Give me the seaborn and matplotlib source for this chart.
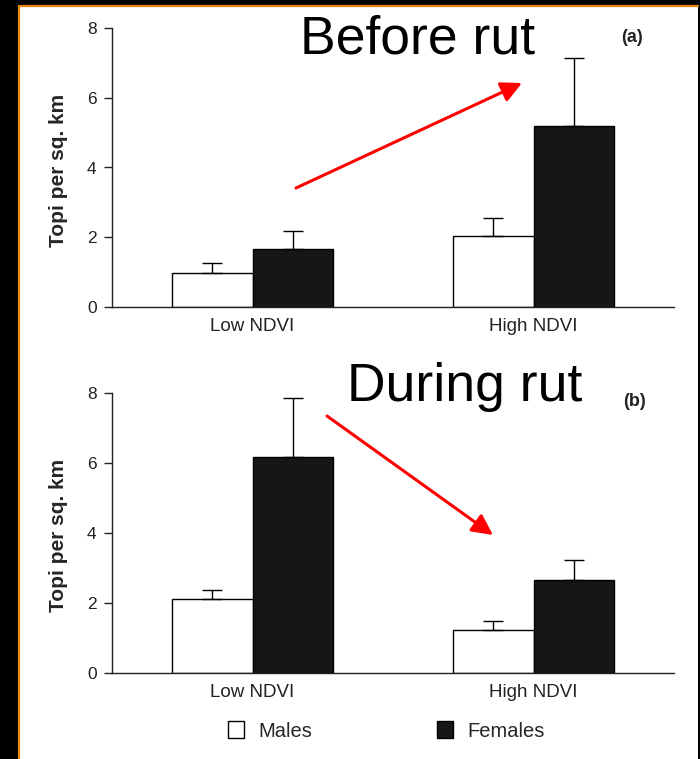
import matplotlib
matplotlib.use("Agg")
import matplotlib.pyplot as plt
import pandas as pd
import seaborn as sns
from matplotlib.patches import Patch, Rectangle
from matplotlib.lines import Line2D

# Data (means and upward standard errors)
groups = ["Low NDVI", "High NDVI"]
sexes = ["Males", "Females"]

before_males = [0.97, 2.03]
before_males_se = [0.29, 0.52]
before_females = [1.66, 5.19]
before_females_se = [0.52, 1.94]

during_males = [2.11, 1.23]
during_males_se = [0.26, 0.26]
during_females = [6.17, 2.66]
during_females_se = [1.68, 0.57]

sns.set_style("ticks")
plt.rcParams["font.family"] = ["Liberation Sans", "DejaVu Sans"]

fig = plt.figure(figsize=(7, 7.59), dpi=100)
fig.patch.set_facecolor("black")

# white slide panel with orange left/top edge
fig.patches.append(Rectangle((19 / 700, 0), 679 / 700, 1 - 6 / 759,
                             transform=fig.transFigure, facecolor="white",
                             edgecolor="none", zorder=-10))
fig.lines.append(Line2D([19 / 700, 19 / 700], [0, 1 - 6 / 759], color="#e8850c",
                        lw=1.6, transform=fig.transFigure))
fig.lines.append(Line2D([19 / 700, 698 / 700], [1 - 6 / 759, 1 - 6 / 759],
                        color="#e8850c", lw=1.6, transform=fig.transFigure))

palette = {"Males": "white", "Females": "#161616"}


def draw_panel(rect, males, males_se, females, females_se):
    ax = fig.add_axes(rect)
    ax.set_facecolor("none")
    df = pd.DataFrame({
        "group": groups * 2,
        "sex": ["Males"] * 2 + ["Females"] * 2,
        "value": males + females,
    })
    sns.barplot(data=df, x="group", y="value", hue="sex", order=groups,
                hue_order=sexes, palette=palette, edgecolor="black",
                linewidth=1, width=0.57, errorbar=None, legend=False, ax=ax)
    for cont, se in zip(ax.containers, [males_se, females_se]):
        for bar, e in zip(cont, se):
            x = bar.get_x() + bar.get_width() / 2
            h = bar.get_height()
            ax.errorbar(x, h, yerr=[[0], [e]], color="black", lw=1,
                        capsize=7, capthick=1, zorder=1)
    ax.set_xlim(-0.5, 1.5)
    ax.set_ylim(0, 8)
    ax.set_yticks([0, 2, 4, 6, 8])
    ax.set_xlabel("")
    ax.set_ylabel("Topi per sq. km", fontsize=15, fontweight="bold")
    ax.yaxis.set_label_coords(-0.078, 0.49)
    ax.tick_params(axis="y", length=6, width=1, labelsize=12.5, pad=5,
                   colors="#222222")
    ax.tick_params(axis="x", length=0, labelsize=13.5, pad=8, colors="#222222")
    sns.despine(ax=ax)
    for s in ["left", "bottom"]:
        ax.spines[s].set_linewidth(1)
        ax.spines[s].set_color("#222222")
    return ax


ax1 = draw_panel([112 / 700, 1 - 307 / 759, 562 / 700, 279 / 759],
                 before_males, before_males_se, before_females, before_females_se)
ax2 = draw_panel([112 / 700, 1 - 673 / 759, 562 / 700, 280 / 759],
                 during_males, during_males_se, during_females, during_females_se)

fig.text(300 / 700, 1 - 53 / 759, "Before rut", fontsize=38.5, ha="left",
         va="baseline", color="black")
fig.text(347 / 700, 1 - 401 / 759, "During rut", fontsize=38.5, ha="left",
         va="baseline", color="black")
fig.text(632 / 700, 1 - 38 / 759, "(a)", fontsize=13, fontweight="bold",
         ha="center", va="center", color="#222222")
fig.text(635 / 700, 1 - 401 / 759, "(b)", fontsize=13, fontweight="bold",
         ha="center", va="center", color="#222222")

arrow = dict(arrowstyle="-|>,head_length=0.5,head_width=0.25", color="red",
             lw=2.2, mutation_scale=25, shrinkA=0, shrinkB=0)
fig.add_artist(plt.Annotation("", xy=(522 / 700, 1 - 83 / 759),
                              xytext=(296 / 700, 1 - 188 / 759),
                              xycoords="figure fraction",
                              textcoords="figure fraction", arrowprops=arrow))
fig.add_artist(plt.Annotation("", xy=(493 / 700, 1 - 535 / 759),
                              xytext=(327 / 700, 1 - 416 / 759),
                              xycoords="figure fraction",
                              textcoords="figure fraction", arrowprops=arrow))

handles = [Patch(facecolor=palette[s], edgecolor="black", lw=1) for s in sexes]
fig.legend(handles, sexes, loc="center", bbox_to_anchor=(386 / 700, 1 - 731 / 759),
           ncol=2, frameon=False, fontsize=14.5, handlelength=0.8,
           handleheight=0.85, handletextpad=0.7, columnspacing=6.2)

fig.savefig("out.png", dpi=100, facecolor=fig.get_facecolor())
